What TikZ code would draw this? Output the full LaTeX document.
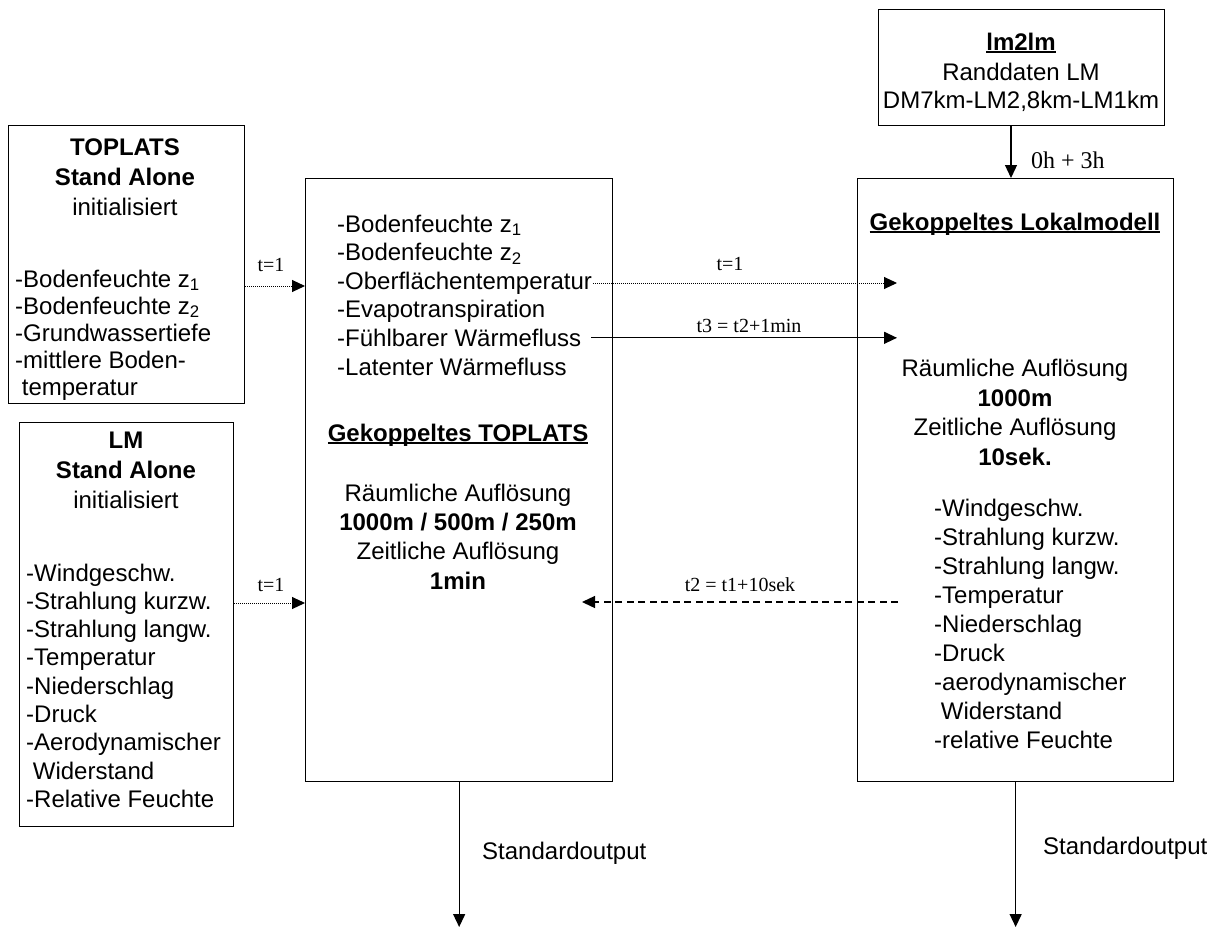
\documentclass[tikz,border=0pt]{standalone}
\usepackage{fontspec}
\setmainfont{Liberation Sans}
\newfontfamily\labelfont{Liberation Serif}
\usetikzlibrary{arrows.meta}

% bold text with a heavy underline
\newcommand\ulbf[1]{\setbox0\hbox{\bfseries #1}\rlap{\copy0}\rule[-3.2pt]{\wd0}{2.2pt}}

\begin{document}
\begin{tikzpicture}[x=1pt,y=-1pt,
  box/.style={draw, line width=1.3pt, inner sep=0pt, anchor=north west},
  txt/.style={inner sep=0pt, anchor=base west, font=\fontsize{24}{28}\selectfont},
  ctxt/.style={inner sep=0pt, anchor=base, font=\fontsize{24}{28}\selectfont},
  lbl/.style={inner sep=0pt, anchor=base, font=\labelfont\fontsize{20}{24}\selectfont},
  bigl/.style={inner sep=0pt, anchor=base west, font=\labelfont\fontsize{24}{28}\selectfont},
  tip/.style={-{Triangle[length=13pt,width=12pt]}},
  solidarrow/.style={tip, line width=1.3pt},
  dotarrow/.style={tip, line width=1pt, dash pattern=on 1pt off 1pt},
  dasharrow/.style={tip, line width=1.3pt, dash pattern=on 7pt off 4.5pt}]

\useasboundingbox (0,0) rectangle (1213,927);

% ---------- boxes ----------
\node[box, minimum width=236pt, minimum height=278pt] (toplats) at (8,125) {};
\node[box, minimum width=214pt, minimum height=404pt] (lm) at (19,422) {};
\node[box, minimum width=307pt, minimum height=603pt] (mid) at (305,178) {};
\node[box, minimum width=286pt, minimum height=116pt] (lmlm) at (878,9) {};
\node[box, minimum width=316pt, minimum height=603pt] (rbox) at (857,178) {};

% ---------- TOPLATS stand alone ----------
\node[ctxt] (tpA) at (125,155) {\textbf{TOPLATS}};
\node[ctxt] (tpB) at (125,185) {\textbf{Stand Alone}};
\node[ctxt] (tpC) at (125,215) {initialisiert};
\foreach \s [count=\i] in {{-Bodenfeuchte z\textsubscript{1}},{-Bodenfeuchte z\textsubscript{2}},
    {-Grundwassertiefe},{-mittlere Boden-},{\ temperatur}}
  \node[txt, name=tpl\i] at (15,{287+27*(\i-1)}) {\s};

% ---------- LM stand alone ----------
\node[ctxt] (lmA) at (126,448) {\textbf{LM}};
\node[ctxt] (lmB) at (126,478) {\textbf{Stand Alone}};
\node[ctxt] (lmC) at (126,508) {initialisiert};
\foreach \s [count=\i] in {{-Windgeschw.},{-Strahlung kurzw.},{-Strahlung langw.},
    {-Temperatur},{-Niederschlag},{-Druck},{-Aerodynamischer},{\ Widerstand},
    {-Relative Feuchte}}
  \node[txt, name=lml\i] at (26,{581+28.3*(\i-1)}) {\s};

% ---------- coupled TOPLATS ----------
\foreach \s [count=\i] in {{-Bodenfeuchte z\textsubscript{1}},{-Bodenfeuchte z\textsubscript{2}},
    {-Oberflächentemperatur},{-Evapotranspiration},{-Fühlbarer Wärmefluss},
    {-Latenter Wärmefluss}}
  \node[txt, name=mdl\i] at (337,{232+28.6*(\i-1)}) {\s};
\node[ctxt] (mdA) at (458,441) {\ulbf{Gekoppeltes TOPLATS}};
\node[ctxt] (mdB) at (458,501) {Räumliche Auflösung};
\node[ctxt] (mdC) at (458,530) {\textbf{1000m / 500m / 250m}};
\node[ctxt] (mdD) at (458,559) {Zeitliche Auflösung};
\node[ctxt] (mdE) at (458,589) {\textbf{1min}};

% ---------- lm2lm ----------
\node[ctxt] (llA) at (1021,50) {\ulbf{lm2lm}};
\node[ctxt] (llB) at (1021,80) {Randdaten LM};
\node[ctxt] (llC) at (1021,108) {DM7km-LM2,8km-LM1km};

% ---------- coupled local model ----------
\node[ctxt] (rbA) at (1015,230) {\ulbf{Gekoppeltes Lokalmodell}};
\node[ctxt] (rbB) at (1015,376) {Räumliche Auflösung};
\node[ctxt] (rbC) at (1015,406) {\textbf{1000m}};
\node[ctxt] (rbD) at (1015,435) {Zeitliche Auflösung};
\node[ctxt] (rbE) at (1015,465) {\textbf{10sek.}};
\foreach \s [count=\i] in {{-Windgeschw.},{-Strahlung kurzw.},{-Strahlung langw.},
    {-Temperatur},{-Niederschlag},{-Druck},{-aerodynamischer},{\ Widerstand},
    {-relative Feuchte}}
  \node[txt, name=rbl\i] at (934,{516+29*(\i-1)}) {\s};

% ---------- helper coordinates ----------
\coordinate (yTop) at (0,286);
\coordinate (yLm) at (0,603);
\coordinate (xIn) at (897,0);
\coordinate (dStart) at (898,602);
\coordinate (dEnd) at (582,602);
\coordinate (xLmlm) at (1011,0);
\coordinate (yBot) at (0,927);

% ---------- connectors ----------
\draw[dotarrow] (toplats.east |- yTop) -- (mid.west |- yTop);
\node[lbl] (l1) at (271,271) {t=1};

\draw[dotarrow] (lm.east |- yLm) -- (mid.west |- yLm);
\node[lbl] (l2) at (271,591) {t=1};

\draw[dotarrow] ([xshift=1pt]mdl3.east) -- (mdl3.east -| xIn);
\node[lbl] (l3) at (730,270) {t=1};

\draw[solidarrow] ([xshift=10pt]mdl5.east) -- (mdl5.east -| xIn);
\node[lbl] (l4) at (749,332) {t3 = t2+1min};

\draw[dasharrow] (dStart) -- (dEnd);
\node[lbl] (l5) at (740,591) {t2 = t1+10sek};

\draw[solidarrow] (lmlm.south -| xLmlm) -- (rbox.north -| xLmlm);
\node[bigl] (l6) at (1031,168) {0h + 3h};

\draw[solidarrow] (mid.south) -- (mid.south |- yBot);
\node[txt] (so1) at (482,859) {Standardoutput};

\draw[solidarrow] (rbox.south) -- (rbox.south |- yBot);
\node[txt] (so2) at (1043,854) {Standardoutput};

\end{tikzpicture}
\end{document}
